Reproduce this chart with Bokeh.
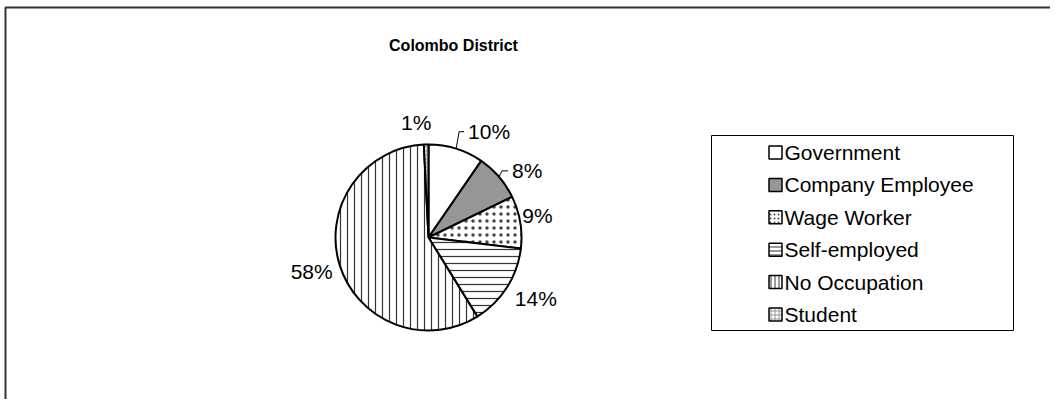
import math
from bokeh.plotting import figure
from bokeh.models import Range1d, ColumnDataSource
from bokeh.core.properties import value
from bokeh.embed import file_html
from bokeh.resources import INLINE

# ---------------- data ----------------
categories = ["Government", "Company Employee", "Wage Worker",
              "Self-employed", "No Occupation", "Student"]
shares = [9.6, 8.2, 9.1, 14.3, 58.0, 0.8]          # percent
title_text = "Colombo District"

# ---------------- styles ----------------
fills = ["white", "#969696", "white", "white", "white", "white"]
hatches = [" ", " ", "dot", "horizontal_line", "vertical_line", "cross"]
hatch_colors = ["black", "black", "#444444", "#333333", "#333333", "#999999"]
hatch_scales = [6, 6, 7, 7, 7, 4]
hatch_weights = [1, 1, 0.8, 1.2, 1.2, 1]

# ---------------- layout (picture pixels) ----------------
W, H = 1050, 399
def sy(v):
    return H - v

CX, CY, R = 428, 237, 93
FONT = "Liberation Sans"
LABEL_SIZE = "21px"
label_offsets = [(12, -17), (13, -6), (2, -7), (8, 11), (-7, 6), (-10, -22)]
label_align = ["left", "left", "left", "left", "right", "center"]
leaders = [True, True, False, False, False, False]

p = figure(width=W, height=H, x_range=Range1d(0, W), y_range=Range1d(0, H),
           min_border=0, toolbar_location=None, output_backend="svg",
           x_axis_location=None, y_axis_location=None)
p.grid.visible = False
p.outline_line_color = None
p.background_fill_color = "white"
p.border_fill_color = "white"

# frame (left and top edge of the chart area)
p.line(x=[5, 5, W], y=[0, sy(7), sy(7)], line_color="#333333", line_width=2)

# title
p.text(x=[453], y=[sy(45)], text=[title_text], text_font=value(FONT),
       text_font_size="16px", text_font_style="bold", text_align="center",
       text_baseline="middle", text_color="black")

# pie
total = sum(shares)
cum = [0.0]
for s in shares:
    cum.append(cum[-1] + s)
start = [math.pi / 2 - 2 * math.pi * cum[i] / total for i in range(len(shares))]
end = [math.pi / 2 - 2 * math.pi * cum[i + 1] / total for i in range(len(shares))]
src = ColumnDataSource(dict(start=start, end=end, fill=fills, hatch=hatches,
                            hcol=hatch_colors, hscale=hatch_scales, hw=hatch_weights,
                            cat=categories))
p.wedge(x=CX, y=sy(CY), radius=R, start_angle="start", end_angle="end",
        direction="clock", source=src, fill_color="fill", line_color="black",
        line_width=2, hatch_pattern="hatch", hatch_color="hcol",
        hatch_scale="hscale", hatch_weight="hw")

# percentage labels
lx, ly, ltxt = [], [], []
lead_xs, lead_ys = [], []
for i, s in enumerate(shares):
    mid = 2 * math.pi * (cum[i] + s / 2) / total
    ex = CX + R * math.sin(mid)
    ey = CY - R * math.cos(mid)
    dx, dy = label_offsets[i]
    tx, ty = ex + dx, ey + dy
    lx.append(tx); ly.append(sy(ty)); ltxt.append(f"{round(s / total * 100):d}%")
    if leaders[i]:
        lead_xs.append([ex, ex + 3, tx - 4])
        lead_ys.append([sy(ey), sy(ty), sy(ty)])
p.multi_line(xs=lead_xs, ys=lead_ys, line_color="black", line_width=1)
p.text(x=lx, y=ly, text=ltxt, text_font=value(FONT), text_font_size=LABEL_SIZE,
       text_align=label_align, text_baseline="middle", text_color="black")

# legend box
LB_L, LB_R, LB_T, LB_B = 711, 1013, 135, 330
p.quad(left=[LB_L], right=[LB_R], top=[sy(LB_T)], bottom=[sy(LB_B)],
       fill_color="white", line_color="black", line_width=1)
row0, step = 152, 32.4
ry = [sy(row0 + step * i) for i in range(len(categories))]
p.rect(x=[775] * len(categories), y=ry, width=13, height=13,
       fill_color=fills, line_color="black", line_width=1.5,
       hatch_pattern=hatches, hatch_color=hatch_colors, hatch_scale=4, hatch_weight=1)
p.text(x=[784] * len(categories), y=ry, text=categories, text_font=value(FONT),
       text_font_size=LABEL_SIZE, text_align="left", text_baseline="middle",
       text_color="black")

open("out.html", "w").write(file_html(p, INLINE))
